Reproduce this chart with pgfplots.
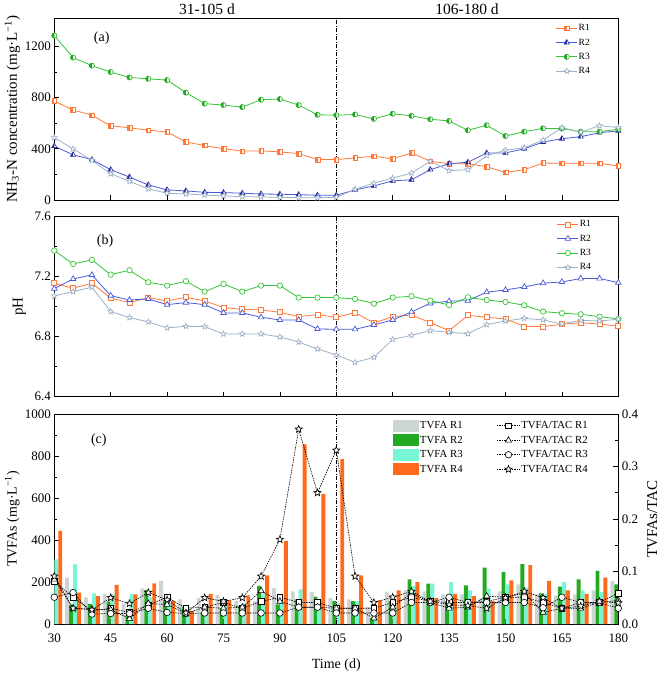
\documentclass[border=0pt]{standalone}
\usepackage{pgfplots}
\pgfplotsset{compat=1.18}
\usepackage{pgfplotstable}
\usepackage{fontspec}
\setmainfont{Liberation Serif}
\usetikzlibrary{plotmarks}

\definecolor{cR1}{HTML}{FF7A3A}
\definecolor{cR2}{HTML}{4A5BD8}
\definecolor{cR2m}{HTML}{1F2A9A}
\definecolor{cR3}{HTML}{33C633}
\definecolor{cR3m}{HTML}{1FA81F}
\definecolor{cR4}{HTML}{9EB0C8}
\definecolor{bR1}{HTML}{CDD4D4}
\definecolor{bR2}{HTML}{22AA22}
\definecolor{bR3}{HTML}{78F5D5}
\definecolor{bR4}{HTML}{FF6A1A}

\pgfdeclareplotmark{hcirc}{%
  \begin{pgfscope}\pgfsetfillcolor{white}%
  \pgfpathcircle{\pgfpointorigin}{\pgfplotmarksize}\pgfusepath{fill}\end{pgfscope}%
  \pgfpathmoveto{\pgfqpoint{0pt}{\pgfplotmarksize}}%
  \pgfpatharc{90}{270}{\pgfplotmarksize}%
  \pgfpathclose\pgfusepath{fill}%
  \pgfpathcircle{\pgfpointorigin}{\pgfplotmarksize}\pgfusepath{stroke}}
\pgfdeclareplotmark{hsq}{%
  \begin{pgfscope}\pgfsetfillcolor{white}%
  \pgfpathrectanglecorners{\pgfqpoint{-\pgfplotmarksize}{-\pgfplotmarksize}}{\pgfqpoint{\pgfplotmarksize}{\pgfplotmarksize}}\pgfusepath{fill}\end{pgfscope}%
  \pgfpathrectanglecorners{\pgfqpoint{-\pgfplotmarksize}{-\pgfplotmarksize}}{\pgfqpoint{0pt}{\pgfplotmarksize}}\pgfusepath{fill}%
  \pgfpathrectanglecorners{\pgfqpoint{-\pgfplotmarksize}{-\pgfplotmarksize}}{\pgfqpoint{\pgfplotmarksize}{\pgfplotmarksize}}\pgfusepath{stroke}}
\pgfdeclareplotmark{htri}{%
  \begin{pgfscope}\pgfsetfillcolor{white}%
  \pgfpathmoveto{\pgfpointpolar{90}{\pgfplotmarksize}}%
  \pgfpathlineto{\pgfpointpolar{210}{\pgfplotmarksize}}%
  \pgfpathlineto{\pgfpointpolar{330}{\pgfplotmarksize}}%
  \pgfpathclose\pgfusepath{fill}\end{pgfscope}%
  \pgfpathmoveto{\pgfpointpolar{90}{\pgfplotmarksize}}%
  \pgfpathlineto{\pgfpointpolar{210}{\pgfplotmarksize}}%
  \pgfpathlineto{\pgfpoint{0pt}{-0.5\pgfplotmarksize}}%
  \pgfpathclose\pgfusepath{fill}%
  \pgfpathmoveto{\pgfpointpolar{90}{\pgfplotmarksize}}%
  \pgfpathlineto{\pgfpointpolar{210}{\pgfplotmarksize}}%
  \pgfpathlineto{\pgfpointpolar{330}{\pgfplotmarksize}}%
  \pgfpathclose\pgfusepath{stroke}}
\pgfdeclareplotmark{star5}{%
  \pgfpathmoveto{\pgfpointpolar{90}{\pgfplotmarksize}}%
  \pgfpathlineto{\pgfpointpolar{126}{0.42\pgfplotmarksize}}%
  \pgfpathlineto{\pgfpointpolar{162}{\pgfplotmarksize}}%
  \pgfpathlineto{\pgfpointpolar{198}{0.42\pgfplotmarksize}}%
  \pgfpathlineto{\pgfpointpolar{234}{\pgfplotmarksize}}%
  \pgfpathlineto{\pgfpointpolar{270}{0.42\pgfplotmarksize}}%
  \pgfpathlineto{\pgfpointpolar{306}{\pgfplotmarksize}}%
  \pgfpathlineto{\pgfpointpolar{342}{0.42\pgfplotmarksize}}%
  \pgfpathlineto{\pgfpointpolar{18}{\pgfplotmarksize}}%
  \pgfpathlineto{\pgfpointpolar{54}{0.42\pgfplotmarksize}}%
  \pgfpathclose\pgfusepathqfillstroke}

\pgfplotstableread{
t a1 a2 a3 a4
30 774 421 1285 487
35 703 353 1113 400
40 663 316 1050 310
45 580 237 1000 205
50 564 179 958 145
55 546 118 947 87
60 532 79 937 53
65 453 71 839 47
70 426 60 753 39
75 400 58 742 32
80 382 53 726 26
85 384 47 784 24
90 376 45 789 21
95 363 42 742 18
100 316 37 666 18
105 316 37 663 21
110 329 79 668 84
115 342 110 634 132
120 321 150 674 171
125 368 158 658 210
130 303 237 631 303
135 284 284 618 229
140 284 295 545 237
145 260 368 584 347
150 216 368 500 389
155 237 400 534 408
160 289 453 560 468
165 287 479 558 566
170 287 495 534 530
175 287 526 534 581
180 266 540 553 566
}\nhtab

\pgfplotstableread{
t p1 p2 p3 p4
30 7.156 7.120 7.373 7.071
35 7.122 7.184 7.284 7.100
40 7.156 7.211 7.311 7.129
45 7.056 7.073 7.213 6.967
50 7.027 7.044 7.242 6.927
55 7.060 7.051 7.162 6.898
60 7.038 7.013 7.140 6.858
65 7.062 7.027 7.169 6.869
70 7.038 7.013 7.100 6.867
75 6.993 6.958 7.151 6.818
80 6.982 6.958 7.100 6.818
85 6.978 6.929 7.140 6.818
90 6.962 6.911 7.140 6.798
95 6.933 6.911 7.060 6.764
100 6.947 6.851 7.060 6.718
105 6.929 6.849 7.060 6.678
110 6.960 6.849 7.051 6.629
115 6.891 6.878 7.020 6.662
120 6.933 6.911 7.060 6.782
125 6.944 6.964 7.069 6.809
130 6.893 7.022 7.040 6.840
135 6.840 7.036 7.011 6.829
140 6.942 7.040 7.062 6.820
145 6.929 7.096 7.044 6.880
150 6.918 7.111 7.031 6.904
155 6.867 7.131 7.009 6.922
160 6.867 7.156 6.967 6.911
165 6.882 7.164 6.956 6.884
170 6.893 7.187 6.949 6.909
175 6.884 7.187 6.933 6.904
180 6.869 7.160 6.918 6.916
}\phtab

\pgfplotstableread{
t b1 b2 b3 b4 r1 r2 r3 r4
30 200 200 308 443 0.081 0.085 0.051 0.091
35 221 90 284 149 0.051 0.030 0.060 0.030
40 127 95 146 133 0.025 0.028 0.019 0.027
45 143 106 143 186 0.030 0.027 0.020 0.050
50 98 43 143 141 0.022 0.010 0.020 0.039
55 170 162 127 194 0.036 0.039 0.030 0.060
60 205 114 98 110 0.051 0.037 0.022 0.046
65 117 83 83 63 0.030 0.020 0.020 0.021
70 125 53 85 144 0.032 0.032 0.021 0.050
75 139 77 109 112 0.041 0.030 0.021 0.043
80 109 88 100 136 0.030 0.032 0.021 0.050
85 109 181 141 232 0.043 0.063 0.021 0.091
90 171 93 110 395 0.051 0.043 0.021 0.161
95 155 117 165 855 0.041 0.032 0.032 0.371
100 152 130 110 620 0.041 0.032 0.032 0.250
105 125 109 100 785 0.030 0.030 0.021 0.331
110 117 109 109 232 0.030 0.030 0.021 0.091
115 80 29 53 112 0.030 0.011 0.021 0.041
120 154 110 100 160 0.041 0.032 0.021 0.051
125 160 213 180 200 0.051 0.059 0.041 0.062
130 155 192 192 125 0.043 0.041 0.041 0.043
135 141 109 200 144 0.041 0.030 0.051 0.037
140 141 184 160 133 0.041 0.032 0.041 0.035
145 125 269 168 109 0.043 0.053 0.041 0.030
150 155 248 189 208 0.051 0.051 0.041 0.050
155 189 285 173 280 0.051 0.059 0.041 0.062
160 141 146 141 205 0.041 0.022 0.031 0.050
165 136 178 200 160 0.030 0.030 0.051 0.030
170 141 213 160 144 0.041 0.030 0.041 0.034
175 160 253 152 221 0.041 0.041 0.041 0.043
180 205 189 100 100 0.059 0.045 0.030 0.040
}\tvfatab

\pgfplotsset{
  base/.style={scale only axis, width=564pt, xmin=30, xmax=180,
    xtick={30,45,...,180}, tick align=inside, tick pos=left,
    major tick length=5pt, minor tick length=3pt,
    tick style={black, line width=0.7pt},
    axis line style={line width=0.8pt},
    ticklabel style={font=\fontsize{13}{13}\selectfont},
    /pgf/number format/assume math mode=true,
    /pgf/number format/1000 sep={},
    label style={font=\fontsize{14}{14}\selectfont},
    xticklabel style={yshift=-6pt}},
  smalllegend/.style={legend style={draw=none, fill=none, inner sep=0pt,
    font=\fontsize{9.5}{10}\selectfont, row sep=1.3pt,
    nodes={inner sep=1pt, text height=8pt, text depth=3pt}},
    legend cell align=left,
    legend image code/.code={\draw[mark repeat=2,mark phase=2,##1] plot coordinates {(0pt,0pt)(10.5pt,0pt)(21pt,0pt)};}},
  barleg/.style={legend image code/.code={\fill[##1] (0pt,-6pt) rectangle (25.5pt,6pt);}},
}

\begin{document}
\begin{tikzpicture}[x=1pt,y=1pt]
\useasboundingbox (0,0) rectangle (661,-675);

% ---------- panel (a)
\begin{axis}[base, at={(54.3pt,-200pt)}, anchor=south west, height=181.7pt,
  ymin=0, ymax=1420, ytick={0,400,800,1200}, minor ytick={200,600,1000},
  xticklabels={},
  ylabel={NH\textsubscript{3}-N concentration (mg·L\textsuperscript{−1})},
  ylabel style={at={(rel axis cs:0,0.5)}, anchor=center, yshift=42pt, font=\fontsize{15}{15}\selectfont},
  smalllegend, legend style={at={(rel axis cs:0.889,0.982)}, anchor=north west}]
\addplot[forget plot, black, dash pattern=on 4pt off 1.5pt on 1pt off 1.5pt, line width=0.7pt] coordinates {(105,0) (105,1420)};
\addplot[cR1, line width=0.8pt, mark=hsq, mark size=2.3pt, mark options={draw=cR1, fill=cR1, line width=0.6pt}] table[x=t,y=a1]{\nhtab};
\addplot[cR2, line width=0.8pt, mark=htri, mark size=3pt, mark options={draw=cR2m, fill=cR2m, line width=0.6pt}] table[x=t,y=a2]{\nhtab};
\addplot[cR3, line width=0.8pt, mark=hcirc, mark size=2.6pt, mark options={draw=cR3m, fill=cR3m, line width=0.6pt}] table[x=t,y=a3]{\nhtab};
\addplot[cR4, line width=0.8pt, mark=star5, mark size=3pt, mark options={draw=cR4, fill=white, line width=0.6pt}] table[x=t,y=a4]{\nhtab};
\legend{R1,R2,R3,R4}
\node[font=\fontsize{14}{14}\selectfont] at (rel axis cs:0.084,0.89) {(a)};
\end{axis}

% ---------- panel (b)
\begin{axis}[base, at={(54.3pt,-396.7pt)}, anchor=south west, height=180.2pt,
  ymin=6.4, ymax=7.6, ytick={6.4,6.8,7.2,7.6}, minor ytick={6.6,7.0,7.4},
  yticklabel style={/pgf/number format/.cd, fixed, fixed zerofill, precision=1},
  xticklabels={},
  ylabel={pH},
  ylabel style={at={(rel axis cs:0,0.5)}, anchor=center, yshift=35pt, font=\fontsize{15}{15}\selectfont},
  smalllegend, legend style={at={(rel axis cs:0.891,0.993)}, anchor=north west}]
\addplot[forget plot, black, dash pattern=on 4pt off 1.5pt on 1pt off 1.5pt, line width=0.7pt] coordinates {(105,6.4) (105,7.6)};
\addplot[cR1, line width=0.8pt, mark=square*, mark size=2.5pt, mark options={draw=cR1, fill=white, line width=0.7pt}] table[x=t,y=p1]{\phtab};
\addplot[cR2, line width=0.8pt, mark=triangle*, mark size=3.2pt, mark options={draw=cR2, fill=white, line width=0.7pt}] table[x=t,y=p2]{\phtab};
\addplot[cR3, line width=0.8pt, mark=*, mark size=2.7pt, mark options={draw=cR3, fill=white, line width=0.7pt}] table[x=t,y=p3]{\phtab};
\addplot[cR4, line width=0.8pt, mark=star5, mark size=3pt, mark options={draw=cR4, fill=white, line width=0.6pt}] table[x=t,y=p4]{\phtab};
\legend{R1,R2,R3,R4}
\node[font=\fontsize{14}{14}\selectfont] at (rel axis cs:0.09,0.865) {(b)};
\end{axis}

% ---------- panel (c) bars
\begin{axis}[base, at={(54.3pt,-624pt)}, anchor=south west, height=210pt,
  ymin=0, ymax=1000, ytick={0,200,...,1000}, minor y tick num=1,
  xlabel={Time (d)},
  xlabel style={at={(rel axis cs:0.5,0)}, anchor=center, yshift=-41pt},
  ylabel={TVFAs (mg·L\textsuperscript{−1})},
  ylabel style={at={(rel axis cs:0,0.5)}, anchor=center, yshift=42pt},
  legend style={at={(rel axis cs:0.601,0.977)}, anchor=north west, draw=none, fill=none, inner sep=0pt,
    font=\fontsize{10.8}{11}\selectfont, row sep=1pt,
    nodes={inner sep=1pt, text height=8.5pt, text depth=3pt}},
  legend cell align=left]
\addplot[ybar, bar width=1.05, bar shift=-1.58, fill=bR1, draw=none, barleg] table[x=t,y=b1]{\tvfatab};
\addplot[ybar, bar width=1.05, bar shift=-0.53, fill=bR2, draw=none, barleg] table[x=t,y=b2]{\tvfatab};
\addplot[ybar, bar width=1.05, bar shift=0.53, fill=bR3, draw=none, barleg] table[x=t,y=b3]{\tvfatab};
\addplot[ybar, bar width=1.05, bar shift=1.58, fill=bR4, draw=none, barleg] table[x=t,y=b4]{\tvfatab};
\addplot[forget plot, black, dash pattern=on 4pt off 1.5pt on 1pt off 1.5pt, line width=0.7pt] coordinates {(105,0) (105,1000)};
\legend{TVFA R1,TVFA R2,TVFA R3,TVFA R4}
\node[font=\fontsize{14}{14}\selectfont] at (rel axis cs:0.079,0.875) {(c)};
\end{axis}

% ---------- panel (c) ratio
\begin{axis}[base, at={(54.3pt,-624pt)}, anchor=south west, height=210pt,
  axis y line*=right, axis x line=none, ytick pos=right, tick align=inside,
  ymin=0, ymax=0.4, ytick={0,0.1,...,0.4}, minor y tick num=1,
  yticklabel style={/pgf/number format/.cd, fixed, fixed zerofill, precision=1},
  ylabel={TVFAs/TAC},
  ylabel style={at={(rel axis cs:1,0.5)}, anchor=center, yshift=-34pt, font=\fontsize{15}{15}\selectfont},
  legend style={at={(rel axis cs:0.784,0.977)}, anchor=north west, draw=none, fill=none, inner sep=0pt,
    font=\fontsize{10.8}{11}\selectfont, row sep=1pt,
    nodes={inner sep=1pt, text height=8.5pt, text depth=3pt}},
  legend cell align=left,
  legend image code/.code={\draw[mark repeat=2,mark phase=2,#1] plot coordinates {(0pt,0pt)(11.5pt,0pt)(23pt,0pt)};}]
\addplot[black, line width=0.6pt, dash pattern=on 1.5pt off 1pt, mark=square*, mark size=2.8pt, mark options={solid, draw=black, fill=white}] table[x=t,y=r1]{\tvfatab};
\addplot[black, line width=0.6pt, dash pattern=on 1.5pt off 1pt, mark=triangle*, mark size=3.6pt, mark options={solid, draw=black, fill=white}] table[x=t,y=r2]{\tvfatab};
\addplot[black, line width=0.6pt, dash pattern=on 1.5pt off 1pt, mark=*, mark size=3.3pt, mark options={solid, draw=black, fill=white}] table[x=t,y=r3]{\tvfatab};
\addplot[black, line width=0.6pt, dash pattern=on 1.5pt off 1pt, mark=star5, mark size=3.8pt, mark options={solid, draw=black, fill=white}] table[x=t,y=r4]{\tvfatab};
\legend{TVFA/TAC R1,TVFA/TAC R2,TVFA/TAC R3,TVFA/TAC R4}
\end{axis}

\node[font=\fontsize{15.5}{16}\selectfont] at (207,-9) {31-105 d};
\node[font=\fontsize{15.5}{16}\selectfont] at (467,-9) {106-180 d};
\end{tikzpicture}
\end{document}
